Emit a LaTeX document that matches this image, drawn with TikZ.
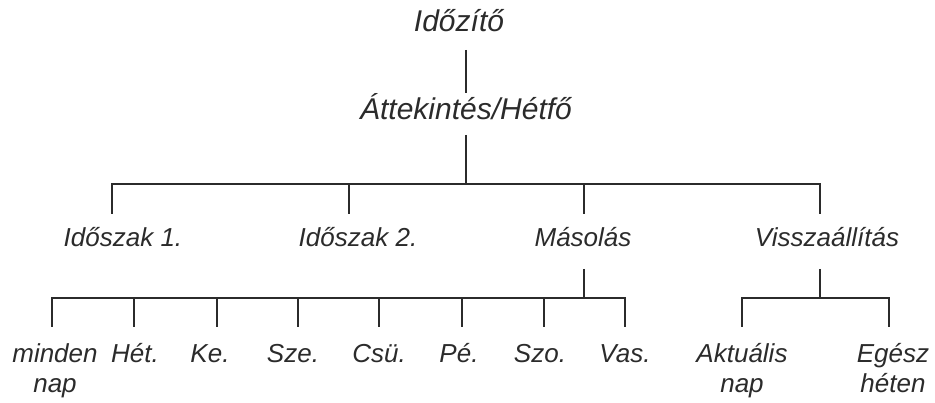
\documentclass[tikz,border=0pt]{standalone}
\usepackage{fontspec}
\setmainfont{Liberation Sans}
\definecolor{ink}{HTML}{2B2B2B}
\begin{document}
\begin{tikzpicture}[x=1pt,y=-1pt,
  lbl/.style={anchor=base,inner sep=0pt,text=ink,align=center,
    font=\fontsize{26}{29}\selectfont\itshape},
  big/.style={lbl,font=\fontsize{30}{33}\selectfont\itshape},
  conn/.style={draw=ink,line width=2.8pt}]
\useasboundingbox (0,0) rectangle (935,403);
% level 0/1
\node[big] (top) at (459,32) {Időzítő};
\node[big] (ov) at (466,120) {Áttekintés/Hétfő};
% level 2
\node[lbl] (p1) at (123,247) {Időszak 1.};
\node[lbl] (p2) at (358,247) {Időszak 2.};
\node[lbl] (cp) at (583,247) {Másolás};
\node[lbl] (rs) at (827,247) {Visszaállítás};
% level 3 (two-line nodes: base = last line)
\node[lbl] (d0) at (55,392) {minden\\nap};
\node[lbl] (d1) at (135,363) {Hét.};
\node[lbl] (d2) at (210,363) {Ke.};
\node[lbl] (d3) at (293,363) {Sze.};
\node[lbl] (d4) at (379,363) {Csü.};
\node[lbl] (d5) at (459,363) {Pé.};
\node[lbl] (d6) at (540,363) {Szo.};
\node[lbl] (d7) at (625,363) {Vas.};
\node[lbl] (r1) at (742,392) {Aktuális\\nap};
\node[lbl] (r2) at (893,392) {Egész\\héten};
% junctions
\coordinate (b1) at (466,184);
\coordinate (b2) at (584,298);
\coordinate (b3) at (820,298);
% connectors
\draw[conn] ([xshift=7pt,yshift=-18pt]top.base) -- ([yshift=27pt]ov.base);
\draw[conn] ([yshift=-15pt]ov.base) -- (b1);
\draw[conn] (b1) -| ([xshift=-11pt,yshift=33pt]p1.base);
\draw[conn] (b1) -| ([xshift=-9pt,yshift=33pt]p2.base);
\draw[conn] (b1) -| ([xshift=1pt,yshift=33pt]cp.base);
\draw[conn] (b1) -| ([xshift=-7pt,yshift=33pt]rs.base);
\draw[conn] ([xshift=1pt,yshift=-22pt]cp.base) -- (b2);
\draw[conn] ([xshift=-7pt,yshift=-22pt]rs.base) -- (b3);
\draw[conn] (b2) -| ([xshift=-3pt,yshift=65pt]d0.base);
\draw[conn] (b2) -| ([xshift=-1pt,yshift=36pt]d1.base);
\draw[conn] (b2) -| ([xshift=7pt,yshift=36pt]d2.base);
\draw[conn] (b2) -| ([xshift=5pt,yshift=36pt]d3.base);
\draw[conn] (b2) -| ([yshift=36pt]d4.base);
\draw[conn] (b2) -| ([xshift=3pt,yshift=36pt]d5.base);
\draw[conn] (b2) -| ([xshift=4pt,yshift=36pt]d6.base);
\draw[conn] (b2) -| ([yshift=36pt]d7.base);
\draw[conn] (b3) -| ([yshift=65pt]r1.base);
\draw[conn] (b3) -| ([xshift=-4pt,yshift=65pt]r2.base);
\end{tikzpicture}
\end{document}
